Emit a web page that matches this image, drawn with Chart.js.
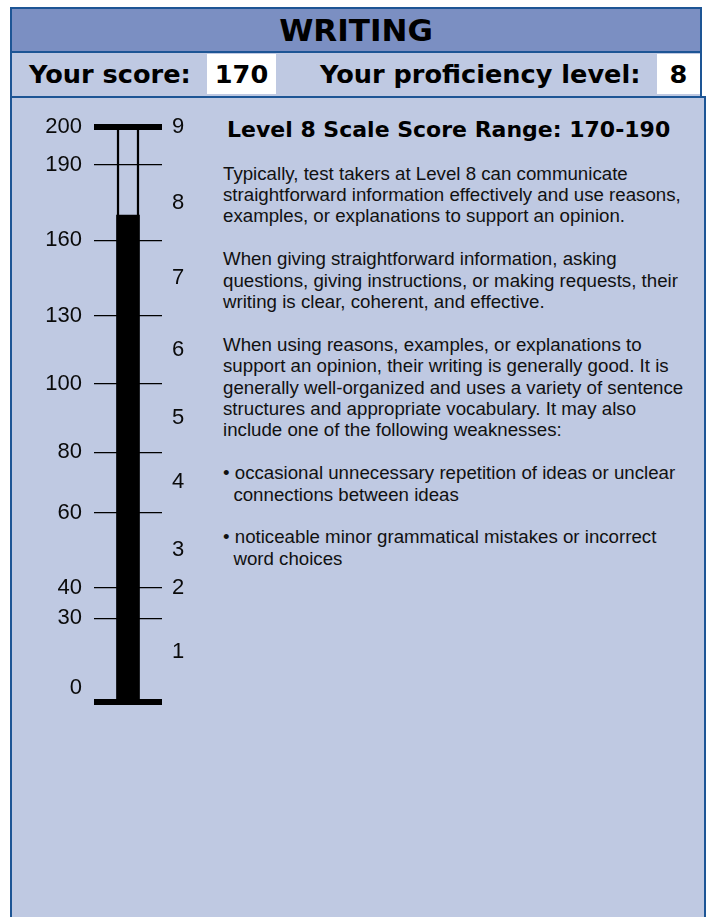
<!DOCTYPE html>
<html>
<head>
<meta charset="utf-8">
<script src="https://cdn.jsdelivr.net/npm/chart.js@4.4.0/dist/chart.umd.min.js"></script>
<style>
  html, body { margin: 0; padding: 0; background: #ffffff; width: 710px; height: 917px; overflow: hidden; }
  .box { position: absolute; box-sizing: border-box; border: 2px solid #1d5595; }
  #hdr { left: 10px; top: 7px; width: 692px; height: 46px; background: #7b8fc2;
         display: flex; align-items: center; justify-content: center;
         font: bold 31px "DejaVu Sans", sans-serif; color: #000; }
  #row { left: 10px; top: 51px; width: 692px; height: 47px; background: #bfc9e2; }
  #panel { left: 10px; top: 96px; width: 696px; height: 900px; background: #bfc9e2; }
  .lbl { position: absolute; top: 54px; height: 40px; display: flex; align-items: center;
         font: bold 25.6px "DejaVu Sans", sans-serif; color: #000; white-space: nowrap; }
  .val { position: absolute; top: 54px; height: 40px; background: #fff; display: flex; align-items: center;
         justify-content: center; font: bold 25.6px "DejaVu Sans", sans-serif; color: #000; }
  #gauge { position: absolute; left: 12px; top: 100px; width: 200px; height: 640px; }
  #head2 { position: absolute; left: 227px; top: 119px; font: bold 22px "DejaVu Sans", sans-serif; line-height: 22px; color: #000; white-space: nowrap; }
  #desc { position: absolute; left: 223px; top: 162.5px; font: 18.7px "Liberation Sans", Arial, sans-serif; line-height: 21.4px; color: #111; white-space: pre; }
</style>
</head>
<body>
<div id="hdr" class="box">WRITING</div>
<div id="row" class="box"></div>
<div id="panel" class="box"></div>
<div class="lbl" style="left:29px;">Your score:</div>
<div class="val" id="scoreBox" style="left:207px;width:69px;"></div>
<div class="lbl" style="left:320px;">Your proficiency level:</div>
<div class="val" id="levelBox" style="left:657px;width:43px;"></div>
<div id="gauge"><canvas id="c" width="200" height="640"></canvas></div>
<div id="head2"></div>
<div id="desc"></div>
<script>
// ---- data ----
const yourScore = 170;
const yourLevel = '8';
const scoreMax = 200;
const scoreTicks = [0, 30, 40, 60, 80, 100, 130, 160, 190, 200];
const levelLabels = ['1', '2', '3', '4', '5', '6', '7', '8', '9'];
const levelTickScores = [18, 40, 50, 70, 90, 115, 145, 175, 200];
const levelRange = '170-190';
const descLines = [
  'Typically, test takers at Level 8 can communicate',
  'straightforward information effectively and use reasons,',
  'examples, or explanations to support an opinion.',
  '',
  'When giving straightforward information, asking',
  'questions, giving instructions, or making requests, their',
  'writing is clear, coherent, and effective.',
  '',
  'When using reasons, examples, or explanations to',
  'support an opinion, their writing is generally good. It is',
  'generally well-organized and uses a variety of sentence',
  'structures and appropriate vocabulary. It may also',
  'include one of the following weaknesses:',
  '',
  '\u2022 occasional unnecessary repetition of ideas or unclear',
  '  connections between ideas',
  '',
  '\u2022 noticeable minor grammatical mistakes or incorrect',
  '  word choices'
];

// ---- axis geometry (the printed score scale is not linear) ----
const AXIS_FRACTIONS = [0, 0.145, 0.198, 0.329, 0.434, 0.5525, 0.671, 0.803, 0.934, 1];

document.getElementById('scoreBox').textContent = String(yourScore);
document.getElementById('levelBox').textContent = yourLevel;
document.getElementById('head2').textContent = 'Level ' + yourLevel + ' Scale Score Range: ' + levelRange;
document.getElementById('desc').textContent = descLines.join('\n');

const Base = Chart.LinearScale || Chart.registry.getScale('linear');
class PiecewiseScale extends Base {
  _dec(v) {
    const s = scoreTicks, f = AXIS_FRACTIONS;
    if (v <= s[0]) return f[0];
    for (let i = 1; i < s.length; i++) {
      if (v <= s[i]) return f[i - 1] + (v - s[i - 1]) / (s[i] - s[i - 1]) * (f[i] - f[i - 1]);
    }
    return f[f.length - 1];
  }
  getPixelForValue(v) {
    if (v === null || v === undefined || isNaN(v)) return NaN;
    return this.getPixelForDecimal(this._dec(v));
  }
  getValueForPixel(p) {
    const d = this.getDecimalForPixel(p);
    const s = scoreTicks, f = AXIS_FRACTIONS;
    for (let i = 1; i < f.length; i++) {
      if (d <= f[i]) return s[i - 1] + (d - f[i - 1]) / (f[i] - f[i - 1]) * (s[i] - s[i - 1]);
    }
    return s[s.length - 1];
  }
}
PiecewiseScale.id = 'piecewise';
PiecewiseScale.defaults = Base.defaults;
Chart.register(PiecewiseScale);

const tickFont = { family: '"Liberation Sans", Arial, sans-serif', size: 22 };

new Chart(document.getElementById('c'), {
  type: 'bar',
  data: {
    labels: ['score'],
    datasets: [
      { data: [yourScore], backgroundColor: '#000', borderWidth: 0, barThickness: 23, grouped: false },
      { data: [[0, scoreMax]], backgroundColor: 'rgba(0,0,0,0)', borderColor: '#000',
        borderWidth: 1.8, borderSkipped: false, barThickness: 22, grouped: false }
    ]
  },
  options: {
    responsive: false,
    animation: false,
    devicePixelRatio: 1,
    layout: { padding: { top: 27, bottom: 38, left: 0, right: 0 } },
    plugins: { legend: { display: false }, tooltip: { enabled: false } },
    scales: {
      x: { type: 'category', display: false },
      y: {
        type: 'piecewise', position: 'left', min: 0, max: scoreMax,
        afterBuildTicks: (s) => { s.ticks = scoreTicks.map(v => ({ value: v })); },
        afterFit: (s) => { s.width = 82; },
        grid: {
          drawTicks: false, color: '#000',
          lineWidth: (ctx) => (ctx.tick && (ctx.tick.value === 0 || ctx.tick.value === scoreMax)) ? 6 : 1.3
        },
        border: { display: false },
        ticks: {
          autoSkip: false, padding: 12, color: '#0a0a0a', font: tickFont,
          callback: (v) => v === 0 ? ['0', ''] : String(v)
        }
      },
      y2: {
        type: 'piecewise', position: 'right', min: 0, max: scoreMax,
        afterBuildTicks: (s) => { s.ticks = levelTickScores.map(v => ({ value: v })); },
        afterFit: (s) => { s.width = 50; },
        grid: { display: false, drawTicks: false },
        border: { display: false },
        ticks: {
          autoSkip: false, padding: 10, color: '#0a0a0a', font: tickFont,
          callback: (v, i) => levelLabels[i]
        }
      }
    }
  }
});
</script>
</body>
</html>
